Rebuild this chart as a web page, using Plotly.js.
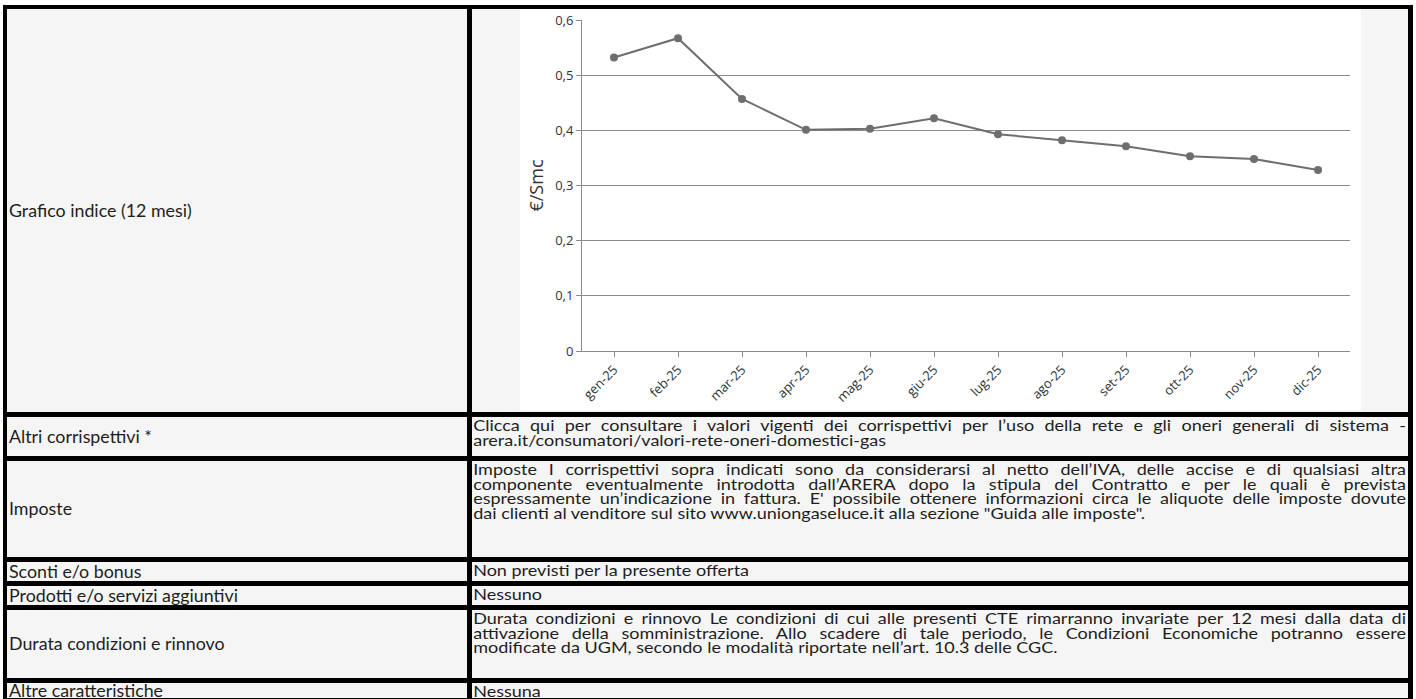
<!DOCTYPE html>
<html><head><meta charset="utf-8">
<script src="https://cdn.plot.ly/plotly-3.0.1.min.js"></script>
<style>
html,body{margin:0;padding:0;background:#fff;width:1416px;height:699px;overflow:hidden;}
#frame{position:absolute;left:3px;top:5px;width:1410px;height:710px;background:#000;}
.cell{position:absolute;background:#f5f5f5;box-sizing:border-box;}
.lab{display:flex;align-items:center;padding-left:2px;}
.lab span{display:inline-block;transform:scaleX(1.08);transform-origin:left center;white-space:nowrap;font-family:Lato,"Open Sans",sans-serif;font-size:16.5px;line-height:16px;color:#1e1e1e;}
.txt{padding-top:1px;}
.inner{transform:scaleX(1.2);transform-origin:left top;font-family:Lato,"Open Sans",sans-serif;font-size:15px;line-height:14.5px;color:#1e1e1e;padding-left:1px;box-sizing:border-box;}
.j{text-align:justify;text-align-last:justify;}
.l{text-align:left;}
#chart{position:absolute;left:520px;top:9px;width:841px;height:401px;background:#fff;}
</style></head>
<body>
<div id="frame"></div>
<div id="table"></div>
<div id="chart"></div>
<script>
// ---- chart data ----
const months = ['gen-25','feb-25','mar-25','apr-25','mag-25','giu-25','lug-25','ago-25','set-25','ott-25','nov-25','dic-25'];
const values = [0.532, 0.567, 0.457, 0.401, 0.403, 0.422, 0.393, 0.382, 0.371, 0.353, 0.348, 0.328];
const yTitle = '€/Smc';

// ---- table text ----
const labels = ['Grafico indice (12 mesi)','Altri corrispettivi *','Imposte','Sconti e/o bonus','Prodotti e/o servizi aggiuntivi','Durata condizioni e rinnovo','Altre caratteristiche'];
const rowTexts = [
  [],
  ['Clicca qui per consultare i valori vigenti dei corrispettivi per l’uso della rete e gli oneri generali di sistema -',
   'arera.it/consumatori/valori-rete-oneri-domestici-gas'],
  ['Imposte I corrispettivi sopra indicati sono da considerarsi al netto dell’IVA, delle accise e di qualsiasi altra',
   'componente eventualmente introdotta dall’ARERA dopo la stipula del Contratto e per le quali è prevista',
   'espressamente un’indicazione in fattura. E\' possibile ottenere informazioni circa le aliquote delle imposte dovute',
   'dai clienti al venditore sul sito www.uniongaseluce.it alla sezione "Guida alle imposte".'],
  ['Non previsti per la presente offerta'],
  ['Nessuno'],
  ['Durata condizioni e rinnovo Le condizioni di cui alle presenti CTE rimarranno invariate per 12 mesi dalla data di',
   'attivazione della somministrazione. Allo scadere di tale periodo, le Condizioni Economiche potranno essere',
   'modificate da UGM, secondo le modalità riportate nell’art. 10.3 delle CGC.'],
  ['Nessuna']
];
const rowTop = [9, 417, 461, 562, 586, 610, 683];
const rowH   = [403, 39, 96, 19, 19, 68, 15];

const tbl = document.getElementById('table');
const SX = 1.2, RW = 934;
labels.forEach((lab, i) => {
  const c = document.createElement('div');
  c.className = 'cell lab';
  c.style.cssText = `left:7px;top:${rowTop[i]}px;width:460px;height:${rowH[i]}px;`;
  const sp = document.createElement('span');
  sp.textContent = lab;
  c.appendChild(sp);
  tbl.appendChild(c);
  const r = document.createElement('div');
  r.className = 'cell txt';
  r.style.cssText = `left:472px;top:${rowTop[i]}px;width:936px;height:${rowH[i]}px;`;
  const inner = document.createElement('div');
  inner.className = 'inner';
  inner.style.width = (RW / SX) + 'px';
  const lines = rowTexts[i];
  lines.forEach((t, k) => {
    const d = document.createElement('div');
    d.className = (k < lines.length - 1) ? 'j' : 'l';
    d.textContent = t;
    inner.appendChild(d);
  });
  r.appendChild(inner);
  tbl.appendChild(r);
});

// ---- plot ----
const lineColor = '#6e6e6e';
const axisColor = '#8a8a8a';
Plotly.newPlot('chart', [{
  x: months, y: values, type: 'scatter', mode: 'lines+markers',
  line: {color: lineColor, width: 2},
  marker: {color: lineColor, size: 8},
  hoverinfo: 'skip'
}], {
  width: 841, height: 401,
  margin: {l: 62, r: 11, t: 11, b: 59},
  paper_bgcolor: '#fff', plot_bgcolor: '#fff',
  separators: ',.',
  showlegend: false,
  font: {family: '"Open Sans", sans-serif', color: '#333'},
  xaxis: {
    type: 'category', range: [-0.5, 11.5], showgrid: false, zeroline: false,
    showline: true, linecolor: axisColor, linewidth: 1,
    ticks: 'outside', ticklen: 5, tickcolor: axisColor, tickangle: -45,
    tickfont: {size: 13, color: '#333'}
  },
  yaxis: {
    range: [0, 0.6], dtick: 0.1, tick0: 0, showgrid: true, gridcolor: axisColor, gridwidth: 1,
    zeroline: false, showline: true, linecolor: axisColor, linewidth: 1,
    ticks: 'outside', ticklen: 5, tickcolor: axisColor,
    tickfont: {size: 13, color: '#333'},
    title: {text: yTitle, font: {size: 18, color: '#333'}, standoff: 6}
  }
}, {displayModeBar: false, staticPlot: true});
</script>
</body></html>
